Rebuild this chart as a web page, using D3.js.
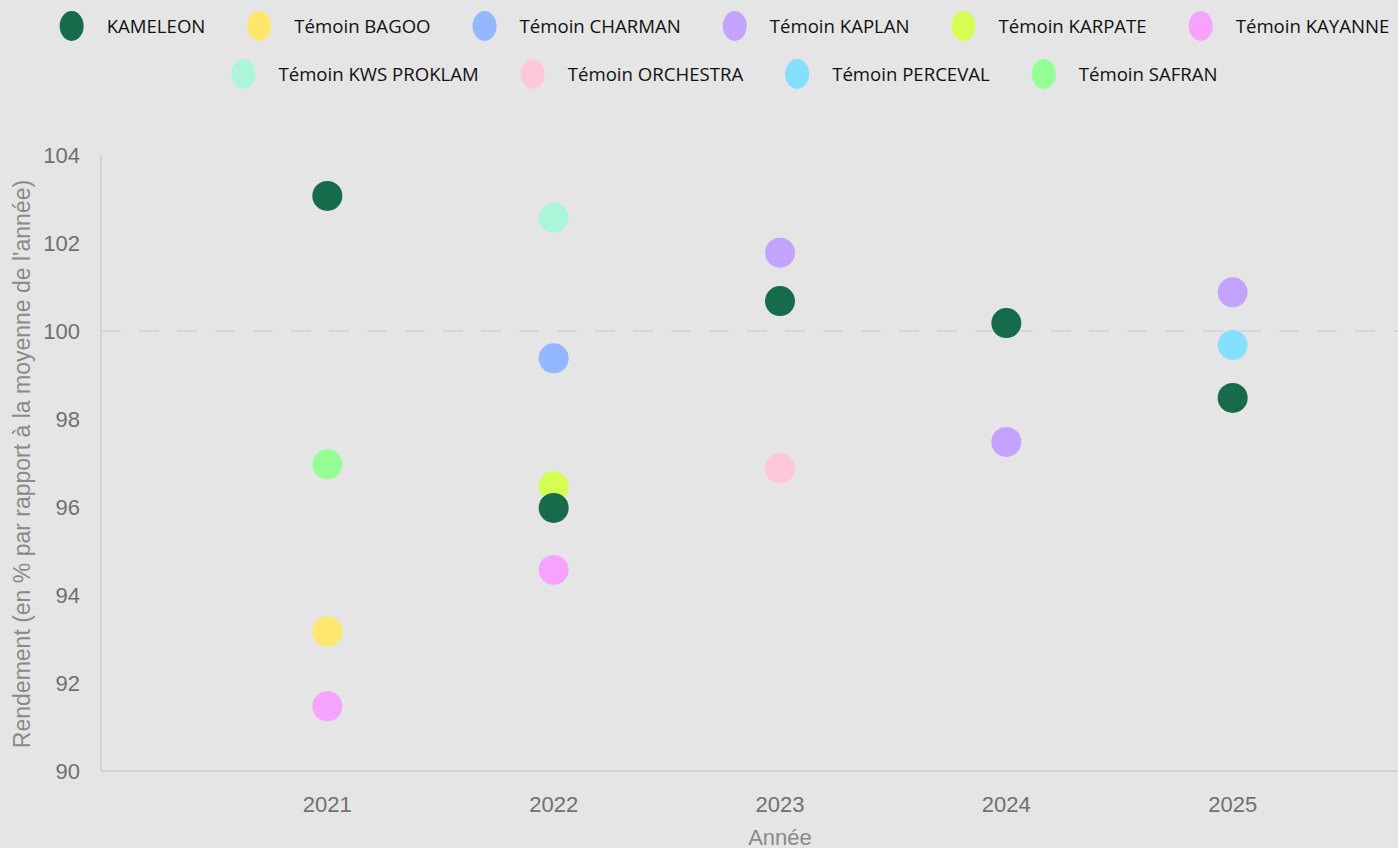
<!DOCTYPE html>
<html>
<head>
<meta charset="utf-8">
<script src="https://cdn.jsdelivr.net/npm/d3@7"></script>
<style>
  body { margin: 0; background: #e5e5e5; overflow: hidden; }
  svg { display: block; }
</style>
</head>
<body>
<div id="chart"></div>
<script>
var w = 1398, h = 848;

// varieties and their colours
var varieties = ['KAMELEON', 'Témoin BAGOO', 'Témoin CHARMAN', 'Témoin KAPLAN', 'Témoin KARPATE',
  'Témoin KAYANNE', 'Témoin KWS PROKLAM', 'Témoin ORCHESTRA', 'Témoin PERCEVAL', 'Témoin SAFRAN'];
var colors = ['#166b4a', '#ffe66d', '#94b8ff', '#c4a3ff', '#d4ff52',
  '#f5a3ff', '#adf5d9', '#ffc7db', '#85e0ff', '#94ff94'];

var years = [2021, 2022, 2023, 2024, 2025];
var yTicks = [90, 92, 94, 96, 98, 100, 102, 104];

// one point per (year, variety)
var ptYear    = [2021, 2021, 2021, 2022, 2022, 2022, 2022, 2023, 2023, 2024, 2025, 2025,
                 2021, 2022, 2023, 2024, 2025];
var ptVariety = ['Témoin SAFRAN', 'Témoin BAGOO', 'Témoin KAYANNE',
                 'Témoin KWS PROKLAM', 'Témoin CHARMAN', 'Témoin KARPATE', 'Témoin KAYANNE',
                 'Témoin KAPLAN', 'Témoin ORCHESTRA', 'Témoin KAPLAN',
                 'Témoin KAPLAN', 'Témoin PERCEVAL',
                 'KAMELEON', 'KAMELEON', 'KAMELEON', 'KAMELEON', 'KAMELEON'];
var ptValue   = [96.97, 93.17, 91.47, 102.57, 99.38, 96.47, 94.57, 101.78, 96.88, 97.48, 100.88, 99.68,
                 103.07, 95.98, 100.68, 100.18, 98.48];

var points = ptYear.map(function(y, i) {
  return { year: y, variety: ptVariety[i], value: ptValue[i] };
});

var color = d3.scaleOrdinal().domain(varieties).range(colors);

var svg = d3.select('#chart').append('svg')
  .attr('width', w)
  .attr('height', h);

var plotLeft = 101, plotTop = 155, plotBottom = 771;

var x = d3.scaleLinear().domain([2020, 2026]).range([plotLeft, 1459]);
var y = d3.scaleLinear().domain([90, 104]).range([plotBottom, plotTop]);

// axes lines
svg.append('line')
  .attr('x1', plotLeft).attr('x2', plotLeft)
  .attr('y1', plotTop).attr('y2', plotBottom)
  .attr('stroke', '#cccccc').attr('stroke-width', 1.5);
svg.append('line')
  .attr('x1', plotLeft).attr('x2', w)
  .attr('y1', plotBottom).attr('y2', plotBottom)
  .attr('stroke', '#cccccc').attr('stroke-width', 1.5);

// reference line at 100
svg.append('line')
  .attr('x1', plotLeft).attr('x2', w)
  .attr('y1', y(100)).attr('y2', y(100))
  .attr('stroke', '#d2d2d2').attr('stroke-width', 1.5)
  .attr('stroke-dasharray', '20,18');

// y tick labels
svg.selectAll('.ytick')
  .data(yTicks)
  .enter().append('text')
  .attr('class', 'ytick')
  .attr('x', 80)
  .attr('y', function(d) { return y(d); })
  .attr('dy', '0.35em')
  .attr('text-anchor', 'end')
  .attr('font-family', 'Liberation Sans, Arial, sans-serif')
  .attr('font-size', 22)
  .attr('fill', '#707070')
  .text(function(d) { return d; });

// x tick labels
svg.selectAll('.xtick')
  .data(years)
  .enter().append('text')
  .attr('class', 'xtick')
  .attr('x', function(d) { return x(d); })
  .attr('y', 812)
  .attr('text-anchor', 'middle')
  .attr('font-family', 'Liberation Sans, Arial, sans-serif')
  .attr('font-size', 22)
  .attr('fill', '#707070')
  .text(function(d) { return d; });

// axis titles
svg.append('text')
  .attr('x', x(2023))
  .attr('y', 845)
  .attr('text-anchor', 'middle')
  .attr('font-family', 'Liberation Sans, Arial, sans-serif')
  .attr('font-size', 22)
  .attr('fill', '#8a8a8a')
  .text('Année');

svg.append('text')
  .attr('transform', 'translate(30,' + 464 + ') rotate(-90)')
  .attr('text-anchor', 'middle')
  .attr('font-family', 'Liberation Sans, Arial, sans-serif')
  .attr('font-size', 23)
  .attr('fill', '#8a8a8a')
  .text("Rendement (en % par rapport à la moyenne de l'année)");

// points
svg.selectAll('circle.pt')
  .data(points)
  .enter().append('circle')
  .attr('class', 'pt')
  .attr('cx', function(d) { return x(d.year); })
  .attr('cy', function(d) { return y(d.value); })
  .attr('r', 15)
  .attr('fill', function(d) { return color(d.variety); });

// legend, two centred rows
var rows = [varieties.slice(0, 6), varieties.slice(6)];
var legendCenter = 724;
rows.forEach(function(row, r) {
  var g = svg.append('g');
  var cy = 26 + r * 48;
  var cursor = 0;
  row.forEach(function(name) {
    g.append('ellipse')
      .attr('cx', cursor + 13).attr('cy', cy)
      .attr('rx', 12).attr('ry', 15)
      .attr('fill', color(name));
    var t = g.append('text')
      .attr('x', cursor + 48).attr('y', cy)
      .attr('dy', '0.35em')
      .attr('font-family', 'Open Sans, sans-serif')
      .attr('font-size', 18.6)
      .attr('fill', '#111')
      .text(name);
    cursor += 48 + t.node().getComputedTextLength() + 41;
  });
  var total = cursor - 41;
  g.attr('transform', 'translate(' + (legendCenter - total / 2) + ',0)');
});
</script>
</body>
</html>
